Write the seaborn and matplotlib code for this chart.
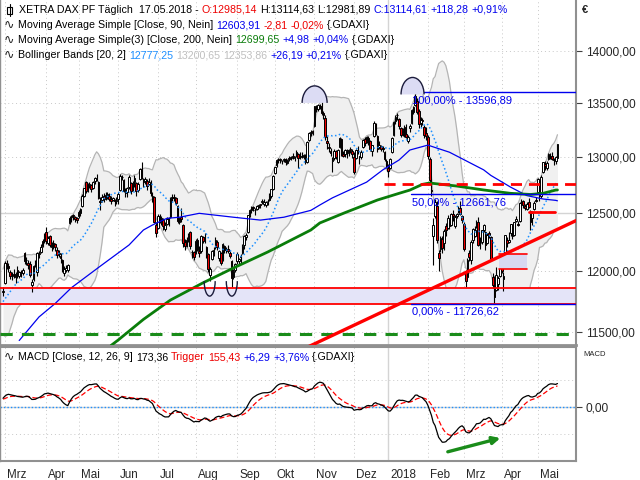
import numpy as np
import pandas as pd
import matplotlib
matplotlib.use("Agg")
import matplotlib.pyplot as plt
import seaborn as sns
from matplotlib import patches, transforms
from matplotlib.ticker import FixedLocator, NullLocator, NullFormatter

# ---------------- data (XETRA DAX, daily) ----------------
# history used only to seed the indicators (not drawn)
hist_jan17 = [11599, 11584, 11585, 11585, 11599, 11563, 11583, 11646, 11521, 11629, 11555,
              11540, 11599, 11597, 11630, 11545, 11595, 11806, 11848, 11814, 11681, 11535]
hist_feb17 = [11659, 11627, 11651, 11509, 11549, 11543, 11643, 11666, 11774, 11771,
              11793, 11757, 11757, 11827, 11967, 11998, 11948, 11804, 11822]

# (open, high, low, close)
feb17 = [(11822, 11870, 11790, 11834)]
mar17 = [(11900, 12085, 11890, 12067), (12070, 12090, 12020, 12060), (12040, 12070, 11990, 12027),
         (11990, 12005, 11930, 11958), (11960, 11995, 11925, 11967), (11975, 12020, 11945, 11967),
         (11950, 11990, 11900, 11978), (12010, 12040, 11940, 11963), (11960, 12000, 11945, 11990),
         (11985, 12010, 11950, 11989), (11980, 12025, 11965, 12010), (12150, 12160, 12060, 12083),
         (12090, 12120, 12050, 12095), (12070, 12090, 12020, 12052), (12060, 12080, 11950, 11962),
         (11880, 11930, 11828, 11904), (11930, 12050, 11920, 12040), (12070, 12090, 12030, 12064),
         (11990, 12160, 11960, 12150), (12140, 12170, 12110, 12149), (12160, 12230, 12150, 12203),
         (12210, 12270, 12200, 12256), (12280, 12325, 12240, 12313)]
apr17 = [(12330, 12375, 12230, 12257), (12240, 12300, 12220, 12282), (12300, 12310, 12200, 12218),
         (12200, 12250, 12170, 12230), (12240, 12260, 12190, 12225), (12230, 12240, 12170, 12200),
         (12180, 12200, 12110, 12139), (12140, 12180, 12120, 12155), (12130, 12150, 12070, 12109),
         (12090, 12100, 11990, 12000), (11980, 12040, 11960, 12016), (12010, 12050, 11990, 12027),
         (12010, 12060, 11990, 12048), (12410, 12470, 12400, 12455), (12460, 12480, 12420, 12467),
         (12480, 12490, 12440, 12473), (12460, 12470, 12420, 12443), (12450, 12460, 12410, 12438)]
may17 = [(12470, 12520, 12450, 12507), (12500, 12540, 12470, 12528), (12560, 12660, 12550, 12648),
         (12650, 12720, 12640, 12716), (12770, 12780, 12670, 12694), (12700, 12760, 12680, 12749),
         (12740, 12770, 12720, 12757), (12740, 12750, 12680, 12711), (12720, 12780, 12710, 12770),
         (12780, 12820, 12750, 12807), (12800, 12840, 12780, 12804), (12770, 12780, 12620, 12631),
         (12600, 12640, 12520, 12590), (12610, 12660, 12590, 12638), (12650, 12670, 12590, 12620),
         (12630, 12680, 12610, 12659), (12660, 12680, 12620, 12642), (12650, 12670, 12600, 12622),
         (12620, 12650, 12580, 12602), (12610, 12640, 12600, 12628), (12610, 12620, 12560, 12599),
         (12600, 12640, 12580, 12615)]
jun17 = [(12620, 12680, 12580, 12664), (12700, 12840, 12690, 12822), (12820, 12830, 12790, 12816),
         (12790, 12800, 12680, 12690), (12700, 12720, 12640, 12675), (12680, 12730, 12640, 12714),
         (12730, 12830, 12710, 12815), (12760, 12770, 12660, 12690), (12700, 12780, 12690, 12765),
         (12770, 12830, 12730, 12806), (12760, 12770, 12650, 12692), (12700, 12770, 12680, 12752),
         (12800, 12900, 12790, 12888), (12890, 12951, 12800, 12814), (12800, 12810, 12730, 12774),
         (12780, 12820, 12750, 12794), (12780, 12800, 12700, 12733), (12750, 12810, 12740, 12770),
         (12760, 12790, 12650, 12671), (12630, 12680, 12590, 12647), (12640, 12650, 12410, 12416),
         (12390, 12420, 12290, 12325)]
jul17 = [(12370, 12490, 12360, 12475), (12470, 12490, 12410, 12437), (12420, 12470, 12390, 12453),
         (12440, 12450, 12350, 12381), (12360, 12420, 12340, 12389), (12400, 12460, 12390, 12445),
         (12450, 12460, 12380, 12437), (12460, 12640, 12450, 12627), (12630, 12660, 12600, 12641),
         (12640, 12660, 12600, 12631), (12630, 12640, 12570, 12587), (12560, 12570, 12410, 12430),
         (12420, 12460, 12400, 12452), (12460, 12540, 12420, 12448), (12390, 12400, 12200, 12240),
         (12250, 12270, 12180, 12209), (12220, 12290, 12200, 12263), (12270, 12320, 12250, 12305),
         (12330, 12340, 12190, 12212), (12160, 12180, 12110, 12162), (12160, 12170, 12090, 12118)]
aug17 = [(12150, 12270, 12140, 12251), (12260, 12280, 12170, 12181), (12170, 12210, 12120, 12154),
         (12170, 12310, 12150, 12298), (12290, 12300, 12240, 12258), (12260, 12320, 12240, 12292),
         (12200, 12210, 12110, 12154), (12140, 12150, 11990, 12014), (11970, 12030, 11920, 12014),
         (12100, 12180, 12090, 12165), (12160, 12200, 12130, 12177), (12200, 12290, 12190, 12263),
         (12250, 12260, 12180, 12203), (12110, 12180, 12080, 12165), (12150, 12160, 12050, 12065),
         (12090, 12240, 12080, 12229), (12210, 12220, 12150, 12174), (12180, 12200, 12150, 12180),
         (12190, 12220, 12150, 12167), (12150, 12170, 12110, 12123), (12080, 12090, 11868, 11945),
         (11950, 12020, 11930, 12002), (12010, 12070, 11990, 12055)]
sep17 = [(12080, 12160, 12060, 12143), (12080, 12110, 12050, 12102), (12120, 12140, 12060, 12124),
         (12150, 12230, 12140, 12214), (12220, 12310, 12190, 12296), (12290, 12320, 12260, 12303),
         (12330, 12480, 12320, 12476), (12480, 12530, 12460, 12525), (12520, 12560, 12500, 12553),
         (12550, 12560, 12510, 12540), (12520, 12540, 12480, 12519), (12530, 12570, 12520, 12559),
         (12560, 12580, 12540, 12561), (12570, 12580, 12540, 12569), (12590, 12620, 12580, 12600),
         (12580, 12620, 12560, 12592), (12570, 12600, 12550, 12594), (12600, 12620, 12570, 12605),
         (12610, 12670, 12600, 12657), (12650, 12710, 12630, 12705), (12710, 12830, 12700, 12829)]
oct17 = [(12850, 12910, 12840, 12902), (12920, 12980, 12910, 12971), (12970, 12990, 12940, 12970),
         (12980, 12990, 12940, 12968), (12960, 12970, 12930, 12956), (12970, 12990, 12950, 12976),
         (12980, 12990, 12920, 12949), (12940, 12980, 12930, 12970), (12990, 13010, 12960, 12982),
         (12990, 13010, 12970, 12991), (13000, 13030, 12980, 13003), (12990, 13010, 12960, 12995),
         (13010, 13060, 13000, 13043), (13020, 13030, 12900, 12990), (13000, 13040, 12980, 13003),
         (13010, 13040, 12990, 13003), (13000, 13020, 12980, 13013), (13010, 13020, 12930, 12953),
         (12950, 13140, 12940, 13133), (13150, 13230, 13140, 13217), (13220, 13240, 13190, 13229),
         (13230, 13240, 13200, 13229)]
nov17 = [(13280, 13470, 13270, 13465), (13450, 13480, 13410, 13440), (13440, 13490, 13420, 13478),
         (13470, 13490, 13440, 13469), (13470, 13526, 13380, 13406), (13400, 13420, 13350, 13382),
         (13360, 13380, 13150, 13183), (13140, 13190, 13070, 13127), (13090, 13120, 13040, 13074),
         (13050, 13080, 13010, 13033), (12960, 13000, 12860, 12976), (12990, 13070, 12970, 13047),
         (13050, 13060, 12980, 12994), (12950, 13070, 12940, 13059), (13090, 13180, 13080, 13167),
         (13160, 13170, 13010, 13015), (13020, 13050, 13000, 13008), (13020, 13070, 13000, 13060),
         (13050, 13070, 12990, 13060), (13030, 13070, 13010, 13060), (13070, 13090, 13030, 13061),
         (13050, 13070, 12990, 13024)]
dec17 = [(13000, 13040, 12840, 12861), (12990, 13070, 12980, 13058), (13060, 13100, 13020, 13048),
         (13000, 13010, 12930, 12998), (13000, 13060, 12980, 13045), (13090, 13160, 13080, 13153),
         (13160, 13180, 13100, 13123), (13140, 13190, 13120, 13183), (13170, 13190, 13110, 13125),
         (13140, 13150, 13050, 13068), (13050, 13110, 13010, 13103), (13190, 13330, 13180, 13312),
         (13300, 13310, 13200, 13215), (13190, 13200, 13040, 13070), (13090, 13140, 13070, 13110),
         (13100, 13110, 13050, 13072), (13080, 13100, 13040, 13070), (13040, 13050, 12960, 12979),
         (12960, 12980, 12900, 12918)]
jan18 = [(12900, 12930, 12820, 12871), (12900, 12990, 12890, 12978), (13040, 13180, 13030, 13167),
         (13200, 13330, 13190, 13320), (13330, 13380, 13300, 13367), (13380, 13400, 13340, 13385),
         (13350, 13360, 13250, 13282), (13260, 13270, 13180, 13202), (13220, 13260, 13190, 13245),
         (13270, 13290, 13180, 13201), (13210, 13300, 13170, 13183), (13140, 13200, 13120, 13184),
         (13260, 13300, 13230, 13281), (13310, 13440, 13300, 13434), (13410, 13470, 13390, 13463),
         (13480, 13597, 13470, 13560), (13520, 13540, 13390, 13415), (13420, 13440, 13260, 13298),
         (13310, 13370, 13270, 13340), (13340, 13360, 13290, 13325), (13270, 13290, 13170, 13198),
         (13220, 13270, 13150, 13189)]
feb18 = [(13180, 13200, 12980, 13004), (12980, 13000, 12760, 12785), (12700, 12800, 12650, 12687),
         (12300, 12450, 12050, 12392), (12470, 12620, 12450, 12591), (12560, 12600, 12240, 12260),
         (12150, 12180, 12003, 12107), (12190, 12300, 12160, 12282), (12270, 12300, 12150, 12196),
         (12240, 12360, 12180, 12339), (12380, 12410, 12300, 12346), (12370, 12480, 12360, 12452),
         (12420, 12430, 12360, 12385), (12390, 12500, 12380, 12488), (12490, 12520, 12430, 12470),
         (12380, 12480, 12370, 12461), (12470, 12500, 12450, 12484), (12530, 12560, 12500, 12527),
         (12540, 12600, 12480, 12490), (12470, 12480, 12410, 12436)]
mar18 = [(12400, 12420, 12170, 12190), (11990, 12010, 11867, 11913), (11950, 12110, 11930, 12091),
         (12150, 12180, 12080, 12114), (12090, 12260, 12060, 12245), (12260, 12370, 12240, 12355),
         (12300, 12380, 12290, 12346), (12420, 12440, 12370, 12418), (12420, 12460, 12210, 12221),
         (12240, 12290, 12190, 12237), (12250, 12350, 12230, 12345), (12350, 12400, 12330, 12390),
         (12330, 12340, 12180, 12217), (12240, 12320, 12230, 12307), (12320, 12340, 12280, 12309),
         (12290, 12300, 12080, 12100), (11950, 11980, 11860, 11886), (11900, 11960, 11727, 11787),
         (11840, 12030, 11830, 11970), (11890, 11960, 11840, 11940), (11960, 12110, 11950, 12096)]
apr18 = [(12130, 12140, 11980, 12003), (11930, 11990, 11830, 11957), (12050, 12310, 12040, 12305),
         (12260, 12290, 12200, 12241), (12250, 12330, 12240, 12261), (12320, 12400, 12300, 12397),
         (12340, 12350, 12270, 12293), (12310, 12420, 12300, 12415), (12430, 12470, 12420, 12442),
         (12400, 12430, 12380, 12391), (12430, 12590, 12420, 12585), (12590, 12620, 12560, 12590),
         (12600, 12610, 12540, 12567.42), (12560, 12580, 12520, 12540.50), (12530, 12590, 12520, 12572.39),
         (12590, 12630, 12540, 12550.82), (12510, 12520, 12350, 12422.30), (12450, 12510, 12390, 12500.47),
         (12530, 12600, 12520, 12580.87), (12600, 12640, 12590, 12612.11)]
may18 = [(12680, 12810, 12670, 12802.25), (12780, 12790, 12600, 12690.15), (12650, 12830, 12630, 12819.60),
         (12860, 12950, 12850, 12948.14), (12930, 12960, 12880, 12912.21), (12900, 12960, 12880, 12943.06),
         (12980, 13030, 12970, 13022.87), (13010, 13030, 12980, 13001.24), (13010, 13040, 12970, 12977.71),
         (12980, 12990, 12920, 12970.04), (12960, 13010, 12930, 12996.33), (12985.14, 13114.63, 12981.89, 13114.61)]

months = [mar17, apr17, may17, jun17, jul17, aug17, sep17, oct17, nov17, dec17,
          jan18, feb18, mar18, apr18, may18]
month_labels = ["Mrz", "Apr", "Mai", "Jun", "Jul", "Aug", "Sep", "Okt", "Nov", "Dez",
                "2018", "Feb", "Mrz", "Apr", "Mai"]

# indicator lines (day index, value)
ma90_day = [9, 20, 29, 38, 54, 70, 78, 83, 91, 98, 109, 128, 143, 156, 171, 176, 183,
            202, 211, 220, 226, 236, 248, 267, 271, 282, 291, 300, 307, 308]
ma90_val = [11430, 11620, 11730, 11860, 12040, 12220, 12349, 12392, 12450, 12460, 12494,
            12460, 12435, 12460, 12520, 12567, 12630, 12770, 12880, 12969, 13060, 13105,
            13040, 12880, 12830, 12725, 12650, 12620, 12608, 12604]
ma200_day = [60, 64, 78, 93, 111, 128, 147, 171, 176, 190, 208, 220, 226, 233, 237,
             252, 267, 282, 293, 300, 307, 308]
ma200_val = [11390, 11434, 11600, 11758, 11900, 12025, 12160, 12349, 12410, 12500, 12611,
             12670, 12699, 12750, 12762, 12735, 12700, 12670, 12660, 12670, 12699, 12700]

price_ticks = [11500, 12000, 12500, 13000, 13500, 14000]

# drawing annotations (day index, price)
fib_levels = [13596.89, 12661.76, 11726.62]
fib_labels = ["100,00% - 13596,89", "50,00% - 12661,76", "0,00% - 11726,62"]
fib_start_day = 226.7
support_band = [11727, 11855]
red_dash_level, red_dash_start = 12753, 211.7
green_dash_level = 11482
trend_day, trend_price = [165, 320], [11349, 12443]
box_days, box_prices = [275.6, 291.0], [12016, 12143]
short_line_days, short_line_price = [292.2, 306.7], 12508
top_marks = [(173.1, 13498), (227.5, 13578)]
bottom_marks = [(114.8, 11915), (127.1, 11915)]
macd_arrow_day, macd_arrow_val = [245.6, 277.8], [-337, -225]

# ---------------- assemble ----------------
rows = feb17 + [r for m in months for r in m]
df = pd.DataFrame(rows, columns=["o", "h", "l", "c"])
n = len(df)
df["day"] = np.arange(n)
month_start = []
pos = len(feb17)
for m in months:
    month_start.append(pos)
    pos += len(m)

allc = pd.Series(hist_jan17 + hist_feb17 + list(df["c"]), dtype=float)
mid = allc.rolling(20).mean()
sd = allc.rolling(20).std(ddof=0)
k = len(allc) - n
df["bb_mid"] = mid.values[k:]
df["bb_up"] = (mid + 2 * sd).values[k:]
df["bb_lo"] = (mid - 2 * sd).values[k:]
ema12 = allc.ewm(span=12, adjust=False).mean()
ema26 = allc.ewm(span=26, adjust=False).mean()
macd = ema12 - ema26
sig = macd.ewm(span=9, adjust=False).mean()
df["macd"] = macd.values[k:]
df["sig"] = sig.values[k:]

# ---------------- figure ----------------
sns.set_style("white")
plt.rcParams["font.family"] = ["Liberation Sans", "DejaVu Sans"]
W, H = 640, 480
fig = plt.figure(figsize=(6.4, 4.8), dpi=100)
ax = fig.add_axes([0.0, 135 / H, 576 / W, 345 / H])
ax2 = fig.add_axes([0.0, 19 / H, 576 / W, 114 / H])

XL = (-1.67, 318.3)
ax.set_yscale("log")
ax.set_xlim(*XL)
ax.set_ylim(11394, 14506)
ax2.set_xlim(*XL)
ax2.set_ylim(-400, 444)

GRID = "#c8c8c8"
for a in (ax, ax2):
    for i, m in enumerate(month_start):
        if month_labels[i] == "2018":
            a.axvline(m, color="#d4d4d4", lw=1.0, zorder=0.5)
        else:
            a.axvline(m, color=GRID, lw=0.7, ls=(0, (1, 3)), zorder=0.5)
for p in price_ticks:
    if p == 12500:
        ax.axhline(p, color="#d4d4d4", lw=1.0, zorder=0.5)
    else:
        ax.axhline(p, color=GRID, lw=0.7, ls=(0, (1, 3)), zorder=0.5)

# Bollinger bands
ax.fill_between(df["day"], df["bb_lo"], df["bb_up"], color="#f0f0f0", zorder=1, lw=0)
sns.lineplot(data=df, x="day", y="bb_up", ax=ax, color="#b4b4b4", lw=0.9, zorder=1.2)
sns.lineplot(data=df, x="day", y="bb_lo", ax=ax, color="#b4b4b4", lw=0.9, zorder=1.2)

# support band
ax.axhspan(support_band[0], support_band[1], color="#e4e4f8", zorder=1.4, lw=0)
for p in support_band:
    ax.axhline(p, color="red", lw=1.3, zorder=6)
ax.axhline(green_dash_level, color="#1a8c1a", lw=2.2, ls=(0, (4, 3)), zorder=6)

# candles
up = df["c"] >= df["o"]
ax.vlines(df["day"], df["l"], df["h"], color="black", lw=0.8, zorder=3)
ax.bar(df["day"], (df["c"] - df["o"]).abs().clip(lower=3), bottom=np.minimum(df["o"], df["c"]),
       width=0.95, color=np.where(up, "white", "#ee0000"), edgecolor="black", linewidth=0.7, zorder=4)

# moving averages
sns.lineplot(data=df, x="day", y="bb_mid", ax=ax, color="#1e90ff", lw=1.1,
             linestyle=(0, (1, 1.6)), zorder=5)
sns.lineplot(x=ma90_day, y=ma90_val, ax=ax, color="#0000ee", lw=0.9, zorder=5)
sns.lineplot(x=ma200_day, y=ma200_val, ax=ax, color="#0a7d0a", lw=2.0, zorder=5)

# fibonacci
for lv, lab in zip(fib_levels, fib_labels):
    ax.plot([fib_start_day, XL[1]], [lv, lv], color="#0000ee", lw=1.0, zorder=6)
    ax.annotate(lab, (fib_start_day, lv), xytext=(1, -3), textcoords="offset pixels",
                color="#0000ee", fontsize=8, va="top", ha="left", zorder=7)

ax.plot([red_dash_start, XL[1]], [red_dash_level] * 2, color="red", lw=2.0, ls=(0, (4, 2.5)), zorder=6)
ax.plot(trend_day, trend_price, color="red", lw=2.4, zorder=6)
ax.fill_between(box_days, box_prices[0], box_prices[1], color="#d8d8f0", zorder=5.5, lw=0)
for p in box_prices:
    ax.plot(box_days, [p, p], color="red", lw=1.2, zorder=6)
ax.plot(short_line_days, [short_line_price] * 2, color="red", lw=2.0, zorder=6)

def half_ellipse(a, xd, yd, rx, ry, t1, t2, fill):
    tr = transforms.Affine2D().scale(rx, ry) + transforms.ScaledTranslation(xd, yd, a.transData)
    if fill:
        a.add_patch(patches.Wedge((0, 0), 1, t1, t2, transform=tr, facecolor="#dcdcf4",
                                  edgecolor="none", zorder=6.5))
    a.add_patch(patches.Arc((0, 0), 2, 2, theta1=t1, theta2=t2, transform=tr,
                            edgecolor="#1c1c3c", lw=1.0, zorder=6.6))

for (d, p), rx in zip(top_marks, [12.5, 11.5]):
    half_ellipse(ax, d, p, rx, 17, 0, 180, True)
for d, p in bottom_marks:
    half_ellipse(ax, d, p, 5.5, 15, 180, 360, False)

# MACD panel
ax2.axhline(0, color="#d4d4d4", lw=1.0, zorder=0.6)
ax2.axhline(0, color="#1e90ff", lw=1.0, ls=(0, (1, 1.5)), zorder=1)
for v in (-200, 200):
    ax2.axhline(v, color=GRID, lw=0.7, ls=(0, (1, 3)), zorder=0.5)
sns.lineplot(data=df, x="day", y="macd", ax=ax2, color="black", lw=0.9, zorder=3)
sns.lineplot(data=df, x="day", y="sig", ax=ax2, color="red", lw=0.9, linestyle=(0, (4, 2)), zorder=2)
ax2.annotate("", xy=(macd_arrow_day[1], macd_arrow_val[1]), xytext=(macd_arrow_day[0], macd_arrow_val[0]),
             arrowprops=dict(arrowstyle="-|>", color="#1a8c1a", lw=2.4, mutation_scale=11), zorder=5)

# axes styling
for a in (ax, ax2):
    a.set_xlabel("")
    a.set_ylabel("")
    for s in a.spines.values():
        s.set_color("#909090")
    a.spines["left"].set_linewidth(1.0)
    a.spines["right"].set_linewidth(1.5)
ax.spines["top"].set_visible(False)
ax.spines["bottom"].set_linewidth(2.0)
ax2.spines["top"].set_linewidth(1.5)
ax2.spines["bottom"].set_linewidth(1.5)

ax.yaxis.tick_right()
ax.yaxis.set_major_locator(FixedLocator(price_ticks))
ax.yaxis.set_minor_locator(NullLocator())
ax.yaxis.set_minor_formatter(NullFormatter())
ax.set_yticklabels([f"{p},00" for p in price_ticks])
ax.tick_params(axis="y", which="major", direction="out", length=4, width=0.8, color="#404040",
               labelsize=8.6, pad=3, right=True, left=False)
ax.set_xticks([])

ax2.yaxis.tick_right()
ax2.set_yticks([0])
ax2.set_yticklabels(["0,00"])
ax2.tick_params(axis="y", direction="out", length=4, width=0.8, color="#404040", labelsize=8.6, pad=3)
ax2.set_xticks(month_start)
ax2.set_xticklabels(month_labels, ha="left")
ax2.tick_params(axis="x", direction="out", length=5, width=0.8, color="#404040", labelsize=8.4, pad=1)
off = transforms.ScaledTranslation(2 / 100, 0, fig.dpi_scale_trans)
for lab in ax2.get_xticklabels():
    lab.set_transform(lab.get_transform() + off)

# ---------------- header texts ----------------
renderer = fig.canvas.get_renderer()
FAM = ["Liberation Sans", "DejaVu Sans"]

def pieces(x, y, items, size=7.7, gap=3.0):
    for s, col in items:
        t = fig.text(x / W, 1 - y / H, s, color=col, fontsize=size, family=FAM, va="center", ha="left")
        x += t.get_window_extent(renderer).width + gap

def wave_icon(x, y):
    fig.text(x / W, 1 - y / H, "\u223f", fontsize=9, family=["DejaVu Sans"], va="center", ha="left")

# candle icon
fig.add_artist(plt.Line2D([9.5 / W, 9.5 / W], [1 - 4 / H, 1 - 16 / H], color="black", lw=0.8))
fig.add_artist(patches.Rectangle((7 / W, 1 - 13.5 / H), 5 / W, 7 / H, facecolor="white",
                                 edgecolor="black", lw=0.8))

blue, red, black, green = "#0000ee", "#ee0000", "black", "#0a7d0a"
pieces(19, 10, [("XETRA DAX PF Täglich", black), (" 17.05.2018 -", black), ("O:12985,14", red),
                ("H:13114,63", black), ("L:12981,89", black), ("C:13114,61", blue),
                ("+118,28", blue), ("+0,91%", blue)])
for yy in (25, 40, 55):
    wave_icon(4, yy)
pieces(18, 25, [("Moving Average Simple [Close, 90, Nein]", black), ("12603,91", blue),
                ("-2,81", red), ("-0,02%", red), ("{.GDAXI}", black)])
pieces(18, 40, [("Moving Average Simple(3) [Close, 200, Nein]", black), ("12699,65", green),
                ("+4,98", blue), ("+0,04%", blue), ("{.GDAXI}", black)])
pieces(18, 55, [("Bollinger Bands [20, 2]", black), ("12777,25", "#1e90ff"),
                ("13200,65", "#c0c0c0"), ("12353,86", "#c0c0c0"), ("+26,19", blue),
                ("+0,21%", blue), ("{.GDAXI}", black)])
wave_icon(4, 357)
pieces(18, 357, [("MACD [Close, 12, 26, 9]", black), ("173,36", black), ("Trigger", red),
                 ("155,43", red), ("+6,29", blue), ("+3,76%", blue), ("{.GDAXI}", black)])

fig.text(582 / W, 1 - 10 / H, "€", fontsize=8, fontweight="bold", va="center", ha="left")
fig.text(583 / W, 1 - 354 / H, "MACD", fontsize=5.5, va="center", ha="left")

fig.savefig("out.png", dpi=100)
